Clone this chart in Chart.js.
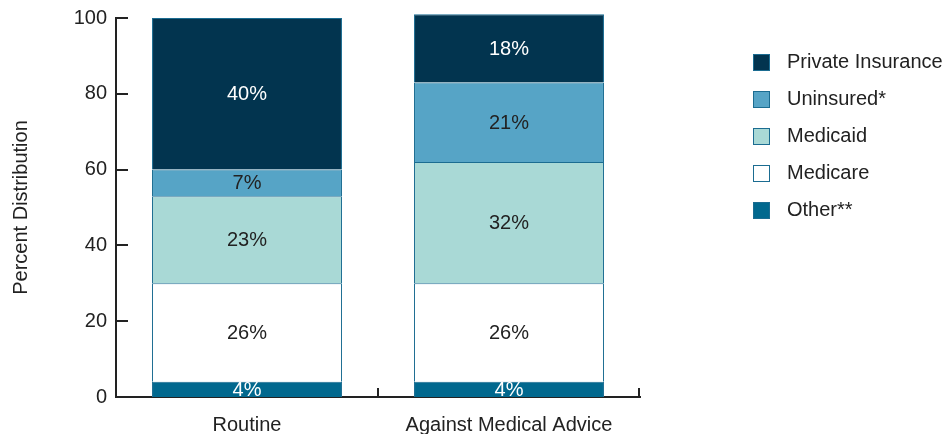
<!DOCTYPE html>
<html>
<head>
<meta charset="utf-8">
<script src="https://cdn.jsdelivr.net/npm/chart.js@4/dist/chart.umd.min.js"></script>
<style>
  html, body { margin: 0; padding: 0; background: #fff; }
  #wrap { position: relative; width: 951px; height: 434px; }
  #legend { position: absolute; left: 753px; top: 53px; font-family: "Liberation Sans", Arial, sans-serif; font-size: 20px; color: #222; }
  .item { height: 37px; position: relative; }
  .box { position: absolute; left: 0; top: 1px; width: 15px; height: 15px; border: 1px solid #1b6c91; }
  .lbl { position: absolute; left: 34px; top: -3px; white-space: nowrap; line-height: 22px; }
</style>
</head>
<body>
<div id="wrap">
  <canvas id="c" width="951" height="434"></canvas>
  <div id="legend"></div>
</div>
<script>
const categories = ['Routine', 'Against Medical Advice'];
const otherVals = [4, 4];
const medicareVals = [26, 26];
const medicaidVals = [23, 32];
const uninsuredVals = [7, 21];
const privateVals = [40, 18];
const yTicks = [0, 20, 40, 60, 80, 100];

const FONT = '"Liberation Sans", Arial, sans-serif';
const EDGE = '#1b6c91';

const series = [
  { label: 'Other**', data: otherVals, color: '#01688e', text: '#ffffff' },
  { label: 'Medicare', data: medicareVals, color: '#ffffff', text: '#222222' },
  { label: 'Medicaid', data: medicaidVals, color: '#a9d9d6', text: '#222222' },
  { label: 'Uninsured*', data: uninsuredVals, color: '#56a4c6', text: '#222222' },
  { label: 'Private Insurance', data: privateVals, color: '#02344f', text: '#ffffff' }
];

const datasets = series.map(s => ({
  label: s.label,
  data: s.data,
  backgroundColor: s.color,
  borderColor: EDGE,
  borderWidth: 1,
  clip: false,
  categoryPercentage: 1,
  barPercentage: 0.725,
  textColor: s.text
}));

const valueLabels = {
  id: 'valueLabels',
  afterDatasetsDraw(chart) {
    const ctx = chart.ctx;
    ctx.save();
    ctx.font = '20px ' + FONT;
    ctx.textAlign = 'center';
    ctx.textBaseline = 'middle';
    chart.data.datasets.forEach((ds, i) => {
      const meta = chart.getDatasetMeta(i);
      meta.data.forEach((el, j) => {
        ctx.fillStyle = ds.textColor;
        const y = (el.y + el.base) / 2 + 1;
        ctx.fillText(ds.data[j] + '%', el.x, y);
      });
    });
    ctx.restore();
  }
};

const axisTicks = {
  id: 'axisTicks',
  afterDraw(chart) {
    const ctx = chart.ctx;
    const ys = chart.scales.y, xs = chart.scales.x;
    const ca = chart.chartArea;
    ctx.save();
    ctx.strokeStyle = '#222';
    ctx.lineWidth = 2;
    ctx.beginPath();
    yTicks.forEach(v => {
      const py = Math.round(ys.getPixelForValue(v));
      if (v === 0) return;
      ctx.moveTo(ca.left, py);
      ctx.lineTo(ca.left + 12, py);
    });
    const mid = (xs.getPixelForValue(0) + xs.getPixelForValue(1)) / 2;
    [mid, ca.right - 1].forEach(px => {
      ctx.moveTo(px, ca.bottom);
      ctx.lineTo(px, ca.bottom - 9);
    });
    ctx.stroke();
    ctx.restore();
  }
};

new Chart(document.getElementById('c'), {
  type: 'bar',
  data: { labels: categories, datasets },
  options: {
    responsive: false,
    animation: false,
    layout: { padding: { top: 18, right: 311, left: 0, bottom: 0 } },
    plugins: { legend: { display: false }, tooltip: { enabled: false } },
    scales: {
      x: {
        stacked: true,
        grid: { display: false, drawTicks: false },
        border: { display: true, color: '#222', width: 2 },
        ticks: { color: '#222', font: { family: FONT, size: 20 }, padding: 16, maxRotation: 0 },
        afterFit(s) { s.height = 37; s.paddingLeft = 0; s.paddingRight = 0; }
      },
      y: {
        stacked: true,
        min: 0, max: 100,
        afterBuildTicks(s) { s.ticks = yTicks.map(v => ({ value: v })); },
        grid: { display: false, drawTicks: false },
        border: { display: true, color: '#222', width: 2 },
        ticks: { color: '#222', font: { family: FONT, size: 20 }, padding: 9 },
        title: { display: true, text: 'Percent Distribution', color: '#222', font: { family: FONT, size: 20 }, padding: { top: 9, bottom: 0 } },
        afterFit(s) { s.width = 116; s.paddingTop = 0; s.paddingBottom = 0; }
      }
    }
  },
  plugins: [valueLabels, axisTicks]
});

const leg = document.getElementById('legend');
series.slice().reverse().forEach(s => {
  const it = document.createElement('div');
  it.className = 'item';
  const b = document.createElement('div');
  b.className = 'box';
  b.style.background = s.color;
  const t = document.createElement('div');
  t.className = 'lbl';
  t.textContent = s.label;
  it.appendChild(b); it.appendChild(t);
  leg.appendChild(it);
});
</script>
</body>
</html>
